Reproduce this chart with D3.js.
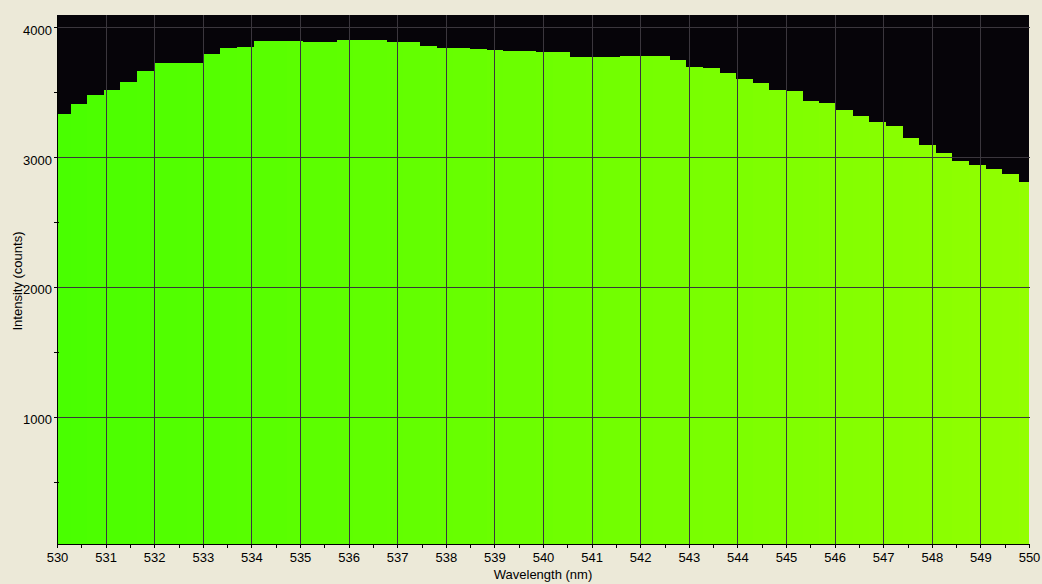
<!DOCTYPE html>
<html>
<head>
<meta charset="utf-8">
<script src="https://cdn.jsdelivr.net/npm/d3@7"></script>
<style>
  html, body { margin: 0; padding: 0; background: #ece9d8; }
  svg { display: block; }
</style>
</head>
<body>
<div id="chart"></div>
<script>
// spectrum samples (nm) and counts
var wavelengths = [530.107, 530.449, 530.792, 531.134, 531.477, 531.819, 532.161, 532.504, 532.846, 533.189,
  533.531, 533.873, 534.216, 534.558, 534.901, 535.243, 535.585, 535.928, 536.270, 536.613,
  536.955, 537.297, 537.640, 537.982, 538.325, 538.667, 539.009, 539.352, 539.694, 540.037,
  540.379, 540.721, 541.064, 541.406, 541.749, 542.091, 542.433, 542.776, 543.118, 543.461,
  543.803, 544.145, 544.488, 544.830, 545.173, 545.515, 545.857, 546.200, 546.542, 546.885,
  547.227, 547.569, 547.912, 548.254, 548.597, 548.939, 549.281, 549.624, 549.966];
var counts = [3333, 3410, 3479, 3518, 3579, 3664, 3724, 3727, 3725, 3795,
  3841, 3849, 3895, 3895, 3893, 3887, 3887, 3902, 3902, 3900,
  3887, 3885, 3856, 3841, 3840, 3833, 3825, 3818, 3817, 3810,
  3809, 3772, 3772, 3771, 3779, 3779, 3778, 3748, 3695, 3687,
  3648, 3602, 3572, 3518, 3510, 3433, 3418, 3364, 3318, 3272,
  3241, 3149, 3095, 3033, 2972, 2941, 2910, 2872, 2810];
var xTicks = [530, 531, 532, 533, 534, 535, 536, 537, 538, 539, 540, 541, 542, 543, 544, 545, 546, 547, 548, 549, 550];
var yTicks = [1000, 2000, 3000, 4000];
var yMinor = [500, 1500, 2500, 3500];

var width = 1042, height = 584;
// plot box (window.top is taken, so prefix everything)
var pLeft = 57, pRight = 1029, pTop = 15, pBottom = 544;
var font = "'Liberation Sans', Arial, sans-serif";
var fontSize = 13;

var x = d3.scaleLinear().domain([530, 550]).range([pLeft, pRight]);
var y = d3.scaleLinear().domain([23, 4095]).range([pBottom, pTop]);
// visible-spectrum colour, green -> yellow
var colour = d3.scaleLinear().domain([510, 580]).range(["#00ff00", "#ffff00"]);

var data = wavelengths.map((w, i) => ({w: w, v: counts[i]}));
data.forEach((d, i) => {
  d.x0 = i == 0 ? 530 : (wavelengths[i - 1] + d.w) / 2;
  d.x1 = i == data.length - 1 ? 550 : (wavelengths[i + 1] + d.w) / 2;
});

const svg = d3.select("#chart").append("svg")
    .attr("width", width)
    .attr("height", height)
    .attr("font-family", font);

svg.append("rect")
    .attr("width", width).attr("height", height)
    .attr("fill", "#ece9d8");

svg.append("rect")
    .attr("x", pLeft).attr("y", pTop)
    .attr("width", pRight - pLeft).attr("height", pBottom - pTop)
    .attr("fill", "#060409");

svg.append("g")
    .attr("shape-rendering", "crispEdges")
  .selectAll("rect")
  .data(data)
  .join("rect")
    .attr("x", d => Math.round(x(d.x0)))
    .attr("width", d => Math.round(x(d.x1)) - Math.round(x(d.x0)))
    .attr("y", d => Math.round(y(d.v)))
    .attr("height", d => pBottom - Math.round(y(d.v)))
    .attr("fill", d => colour(d.w));

// grid
const grid = svg.append("g")
    .attr("stroke", "#3a363d")
    .attr("shape-rendering", "crispEdges");
grid.selectAll("line.v")
  .data(xTicks.filter(t => t > 530 && t < 550))
  .join("line")
    .attr("class", "v")
    .attr("x1", d => Math.round(x(d)) + 0.5).attr("x2", d => Math.round(x(d)) + 0.5)
    .attr("y1", pTop).attr("y2", pBottom);
grid.selectAll("line.h")
  .data(yTicks)
  .join("line")
    .attr("class", "h")
    .attr("y1", d => Math.round(y(d)) + 0.5).attr("y2", d => Math.round(y(d)) + 0.5)
    .attr("x1", pLeft).attr("x2", pRight + 1);

// axes
const xAxis = svg.append("g")
    .attr("transform", `translate(0,${pBottom})`)
    .call(d3.axisBottom(x).tickValues(xTicks).tickFormat(d3.format("d")).tickSize(4).tickSizeOuter(0));
svg.append("g")
    .attr("transform", `translate(0,${pBottom})`)
    .call(d3.axisBottom(x).tickValues(xTicks.slice(0, -1).map(t => t + 0.5)).tickFormat("").tickSize(4).tickSizeOuter(0))
    .call(g => g.select(".domain").remove());
xAxis.selectAll("text").attr("y", 18).attr("dy", null);

const yAxis = svg.append("g")
    .attr("transform", `translate(${pLeft},0)`)
    .call(d3.axisLeft(y).tickValues(yTicks).tickFormat(d3.format("d")).tickSize(3).tickPadding(2).tickSizeOuter(0));
svg.append("g")
    .attr("transform", `translate(${pLeft},0)`)
    .call(d3.axisLeft(y).tickValues(yMinor).tickFormat("").tickSize(3))
    .call(g => g.select(".domain").remove())
    .call(g => g.selectAll(".tick line").attr("x2", -3).attr("x1", 2));
yAxis.selectAll("text").attr("dy", "0.52em");

svg.selectAll(".domain, .tick line").attr("stroke", "#000").attr("shape-rendering", "crispEdges");
svg.selectAll(".tick text").attr("fill", "#000").attr("font-size", fontSize).attr("font-family", font);

// titles
svg.append("text")
    .attr("x", (pLeft + pRight) / 2)
    .attr("y", 579)
    .attr("text-anchor", "middle")
    .attr("font-size", fontSize)
    .text("Wavelength (nm)");

svg.append("text")
    .attr("transform", "translate(21.5,281) rotate(-90)")
    .attr("text-anchor", "middle")
    .attr("font-size", fontSize)
    .text("Intensity (counts)");
</script>
</body>
</html>
